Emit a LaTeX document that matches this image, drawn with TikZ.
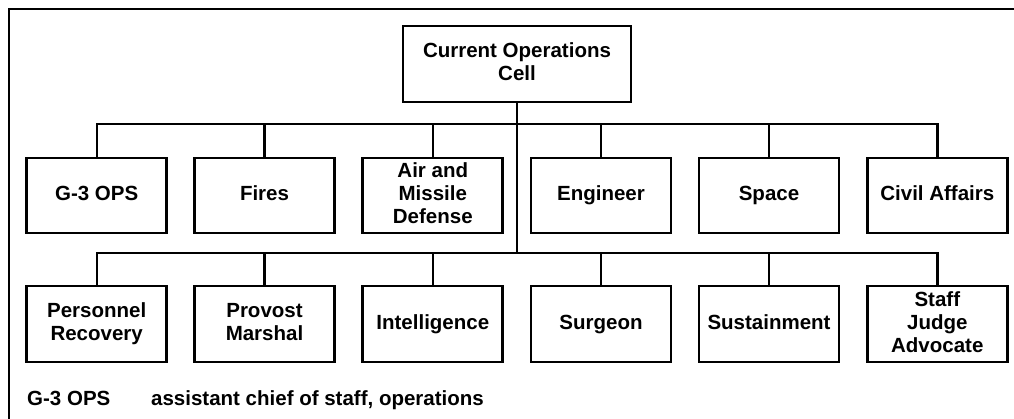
\documentclass[tikz,border=0pt]{standalone}
\usepackage{fontspec}
\setmainfont{Liberation Sans}
\newcommand\mystrutx{\rule[-4.5pt]{0pt}{19pt}}
\begin{document}
\begin{tikzpicture}[x=1pt,y=-1pt,
  box/.style={draw, line width=2.8pt, minimum width=140pt, minimum height=75pt, inner sep=0pt, align=center, font=\fontsize{20.5}{23}\selectfont\bfseries, execute at begin node=\mystrutx, execute at end node=\mystrutx},
  conn/.style={line width=2.4pt, line join=miter},
  legend/.style={anchor=base west, inner sep=0pt, font=\fontsize{20.5}{23}\selectfont\bfseries}]
\useasboundingbox (0,0) rectangle (1014,418);
\draw[line width=2.8pt] (1020,9) -- (9,9) -- (9,425);
\node[box, minimum width=228pt, minimum height=76pt] (top) at (517,64) {Current Operations\\Cell};
\coordinate (bus1) at (0,124);
\coordinate (bus2) at (0,253);
\node[box] (a1) at (96.7,195.5) {G-3 OPS};
\node[box] (a2) at (264.5,195.5) {Fires};
\node[box] (a3) at (432.8,195.5) {Air and\\Missile\\Defense};
\node[box] (a4) at (601,195.5) {Engineer};
\node[box] (a5) at (769,195.5) {Space};
\node[box] (a6) at (937.3,195.5) {Civil Affairs};
\node[box, minimum height=76pt] (b1) at (96.7,324) {Personnel\\Recovery};
\node[box, minimum height=76pt] (b2) at (264.5,324) {Provost\\Marshal};
\node[box, minimum height=76pt] (b3) at (432.8,324) {Intelligence};
\node[box, minimum height=76pt] (b4) at (601,324) {Surgeon};
\node[box, minimum height=76pt] (b5) at (769,324) {Sustainment};
\node[box, minimum height=76pt] (b6) at (937.3,324) {Staff\\Judge\\Advocate};
\draw[conn] (top.south) -- (top.south |- bus2);
\draw[conn] (a1.north) -- (a1.north |- bus1) -- (a6.north |- bus1) -- (a6.north);
\foreach \n in {a2,a3,a4,a5} \draw[conn] (\n.north) -- (\n.north |- bus1);
\draw[conn] (b1.north) -- (b1.north |- bus2) -- (b6.north |- bus2) -- (b6.north);
\foreach \n in {b2,b3,b4,b5} \draw[conn] (\n.north) -- (\n.north |- bus2);
\node[legend] (l1) at (27,405) {G-3 OPS};
\node[legend] (l2) at (151,405) {assistant chief of staff, operations};
\end{tikzpicture}
\end{document}
